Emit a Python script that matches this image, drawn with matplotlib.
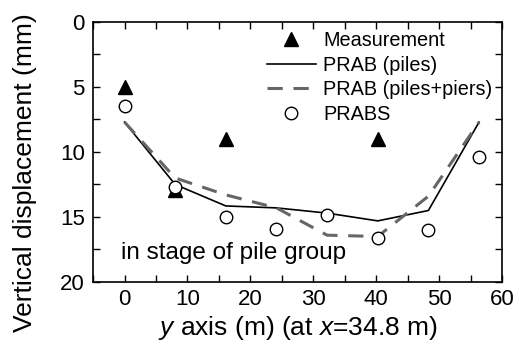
import numpy as np
import matplotlib
matplotlib.use("Agg")
import matplotlib.pyplot as plt
from matplotlib.ticker import MultipleLocator

plt.rcParams['font.family'] = ['Liberation Sans', 'DejaVu Sans']
plt.rcParams['mathtext.fontset'] = 'custom'
plt.rcParams['mathtext.it'] = 'Liberation Sans:italic'
plt.rcParams['mathtext.rm'] = 'Liberation Sans'

# measurement points
meas_y = [0, 8.05, 16.1, 40.25]
meas_d = [5.0, 12.9, 9.0, 9.0]

# calculation points along the section
pos = [0, 8.05, 16.1, 24.15, 32.2, 40.25, 48.3, 56.35]
prab_piles = [7.7, 12.5, 14.15, 14.3, 14.7, 15.3, 14.5, 7.7]
prab_piers = [7.7, 12.0, 13.3, 14.3, 16.4, 16.5, 13.4, 7.7]
prabs = [6.5, 12.7, 15.0, 15.9, 14.85, 16.65, 16.0, 10.35]

fig, ax = plt.subplots(figsize=(5.17, 3.49), dpi=100)
fig.subplots_adjust(left=0.18, right=0.971, bottom=0.192, top=0.937)

ax.plot(meas_y, meas_d, '^', color='black', ms=10, label='Measurement', zorder=3)
ax.plot(pos, prab_piles, '-', color='black', lw=1.2, label='PRAB (piles)')
ax.plot(pos, prab_piers, '--', color='#666666', lw=2.2, dashes=(5, 3.5),
        label='PRAB (piles+piers)')
ax.plot(pos, prabs, 'o', mfc='white', mec='black', mew=1.0, ms=9,
        label='PRABS', zorder=4)

ax.set_xlim(-5, 60)
ax.set_ylim(20, 0)
ax.xaxis.set_major_locator(MultipleLocator(10))
ax.xaxis.set_minor_locator(MultipleLocator(5))
ax.yaxis.set_major_locator(MultipleLocator(5))
ax.yaxis.set_minor_locator(MultipleLocator(2.5))
ax.tick_params(which='both', direction='in', top=True, right=True,
               length=5, width=1.0, labelsize=16)
ax.tick_params(axis='x', pad=5)
ax.tick_params(axis='y', pad=6)
for s in ax.spines.values():
    s.set_linewidth(1.2)

ax.set_xlabel(r'$y$ axis (m) (at $x$=34.8 m)', fontsize=19, labelpad=3)
ax.set_ylabel('Vertical displacement (mm)', fontsize=19)
ax.yaxis.set_label_coords(-0.138, 0.42)

ax.text(-0.5, 18.2, 'in stage of pile group', fontsize=17.5, va='baseline')

ax.legend(loc='upper left', frameon=False, fontsize=14.3, handlelength=2.5,
          handletextpad=0.35, labelspacing=0.28, borderaxespad=0.0,
          bbox_to_anchor=(0.405, 0.995))

fig.savefig('out.png', dpi=100)
